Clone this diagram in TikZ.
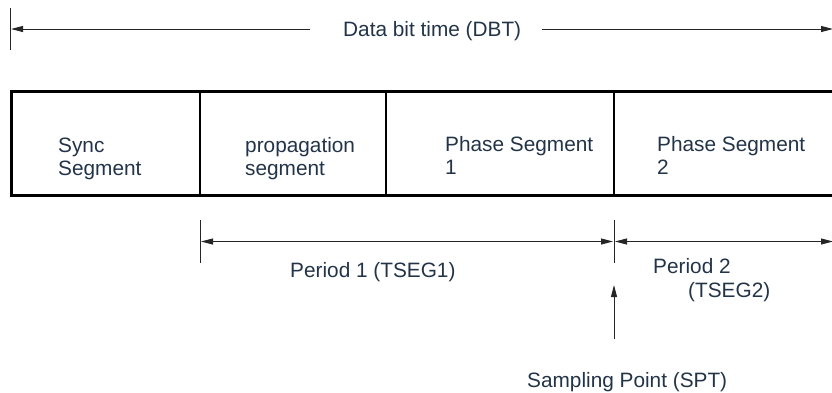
\documentclass[tikz,border=0pt]{standalone}
\usepackage{fontspec}
\setmainfont{Liberation Sans}
\usetikzlibrary{arrows.meta}
\definecolor{txt}{RGB}{35,52,72}
\tikzset{
  lbl/.style={anchor=base west, inner sep=0pt, text=txt, font=\fontsize{20.8}{24}\selectfont},
  thin line/.style={line width=1pt, draw=black!85},
  tip/.tip={Triangle[length=12pt,width=6pt]},
  arr/.style={thin line, -tip},
  darr/.style={thin line, tip-tip},
  frame/.style={line width=3pt, line cap=rect},
  divider/.style={line width=1.1pt}
}
\begin{document}
\begin{tikzpicture}[x=1pt,y=-1pt]
\useasboundingbox (0,0) rectangle (832,392);
% top dimension: Data bit time
\coordinate (t1) at (10.5,8);
\coordinate (t2) at (10.5,50);
\draw[thin line] (t1) -- (t2);
\node[lbl] (dbt) at (343,36.5) {Data bit time (DBT)};
\coordinate (dbtL0) at (310,29);
\coordinate (dbtL1) at (11,29);
\coordinate (dbtR0) at (542,29);
\coordinate (dbtR1) at (833,29);
\draw[arr] (dbtL0) -- (dbtL1);
\draw[arr] (dbtR0) -- (dbtR1);
% segment box
\draw[frame] (834,91.5) -- (11.5,91.5) -- (11.5,195) -- (834,195);
\foreach \x/\n in {200/d1,386/d2,614/d3}{
  \coordinate (\n t) at (\x,91.5);
  \coordinate (\n b) at (\x,195);
  \draw[divider] (\n t) -- (\n b);
}
\node[lbl] (s1a) at (58,152) {Sync};
\node[lbl] (s1b) at (58,175) {Segment};
\node[lbl] (s2a) at (245,152) {propagation};
\node[lbl] (s2b) at (245,175) {segment};
\node[lbl] (s3a) at (445,151) {Phase Segment};
\node[lbl] (s3b) at (445,174) {1};
\node[lbl] (s4a) at (657,151) {Phase Segment};
\node[lbl] (s4b) at (657,174) {2};
% periods
\coordinate (p1t) at (200,220);
\coordinate (p1b) at (200,263);
\draw[thin line] (p1t) -- (p1b);
\coordinate (spt) at (614,220);
\coordinate (spb) at (614,263);
\draw[thin line] (spt) -- (spb);
\coordinate (p1L) at (201,241.5);
\coordinate (p1R) at (613,241.5);
\draw[darr] (p1L) -- (p1R);
\coordinate (p2L) at (615,241.5);
\coordinate (p2R) at (833,241.5);
\draw[darr] (p2L) -- (p2R);
\node[lbl] (per1) at (290,277) {Period 1 (TSEG1)};
\node[lbl] (per2a) at (653,273) {Period 2};
\node[lbl] (per2b) at (688,297.5) {(TSEG2)};
% sampling point
\coordinate (sa0) at (614,339);
\coordinate (sa1) at (614,285);
\draw[arr] (sa0) -- (sa1);
\node[lbl] (samp) at (527,387) {Sampling Point (SPT)};
\end{tikzpicture}
\end{document}
